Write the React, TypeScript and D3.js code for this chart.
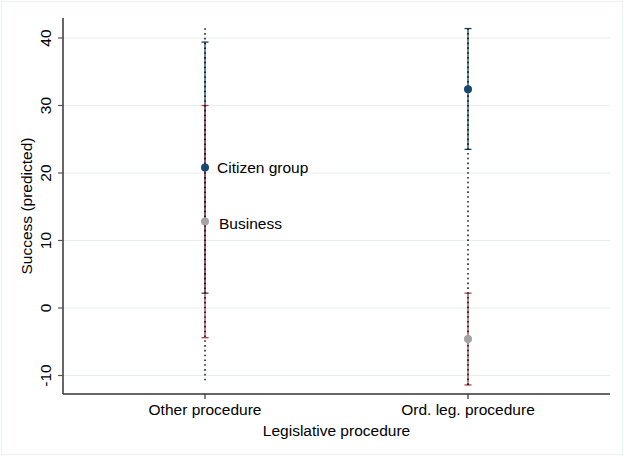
import React from "react";
import * as d3 from "d3";

const categories = ["Other procedure", "Ord. leg. procedure"];
const citizenPoint = [20.8, 32.4];
const citizenLo = [2.2, 23.5];
const citizenHi = [39.4, 41.4];
const businessPoint = [12.8, -4.6];
const businessLo = [-4.4, -11.4];
const businessHi = [30.0, 2.2];
const rangeLo = [-10.7, -11.4];
const rangeHi = [41.5, 41.4];
const yTicks = [-10, 0, 10, 20, 30, 40];
const pointLabels = ["Citizen group", "Business"];

const W = 624;
const H = 456;
const left = 63;
const right = 610;
const top = 18;
const bottom = 394;

const BLUE = "#1a476f";
const GRAY = "#a3a3a3";
const RED = "#a8404a";
const FONT = "'Liberation Sans', Arial, Helvetica, sans-serif";

export default function App() {
  const x = d3.scaleLinear().domain([-0.54, 1.54]).range([left, right]);
  const y = d3.scaleLinear().domain([0, 40]).range([308, 38]);
  const cap = 3.5;

  const ci = (lo: number[], hi: number[], color: string, key: string) =>
    categories.map((_, i) => (
      <g key={key + i}>
        <line x1={x(i)} x2={x(i)} y1={y(lo[i])} y2={y(hi[i])} stroke={color} strokeWidth={1.3} />
        <line x1={x(i) - cap} x2={x(i) + cap} y1={y(lo[i])} y2={y(lo[i])} stroke={color} strokeWidth={1.3} />
        <line x1={x(i) - cap} x2={x(i) + cap} y1={y(hi[i])} y2={y(hi[i])} stroke={color} strokeWidth={1.3} />
      </g>
    ));

  return (
    <svg width={W} height={H} style={{ position: "absolute", left: 0, top: 0 }}>
      <rect x={0} y={0} width={W} height={H} fill="#ffffff" />
      <rect x={1.5} y={1.5} width={W - 3} height={H - 3} fill="none" stroke="#eef3f3" strokeWidth={1.5} />
      {yTicks.map((t) => (
        <line key={"g" + t} x1={left} x2={right} y1={y(t)} y2={y(t)} stroke="#e6eeee" strokeWidth={1.2} />
      ))}
      {ci(citizenLo, citizenHi, BLUE, "c")}
      {ci(businessLo, businessHi, RED, "b")}
      {categories.map((_, i) => (
        <line key={"r" + i} x1={x(i)} x2={x(i)} y1={y(rangeLo[i])} y2={y(rangeHi[i])} stroke="#000" strokeWidth={1.4} strokeDasharray="1.6,3.2" />
      ))}
      {categories.map((_, i) => (
        <circle key={"bp" + i} cx={x(i)} cy={y(businessPoint[i])} r={4} fill={GRAY} />
      ))}
      {categories.map((_, i) => (
        <circle key={"cp" + i} cx={x(i)} cy={y(citizenPoint[i])} r={4} fill={BLUE} />
      ))}
      <text x={x(0) + 12} y={y(citizenPoint[0])} dy="0.35em" fontFamily={FONT} fontSize={15.5} fill="#000">{pointLabels[0]}</text>
      <text x={x(0) + 14} y={y(businessPoint[0]) + 2} dy="0.35em" fontFamily={FONT} fontSize={15.5} fill="#000">{pointLabels[1]}</text>
      <line x1={left} x2={left} y1={top} y2={bottom} stroke="#000" strokeWidth={1.2} />
      <line x1={left} x2={right} y1={bottom} y2={bottom} stroke="#333" strokeWidth={1.5} />
      {yTicks.map((t) => (
        <g key={"yt" + t}>
          <line x1={left - 5} x2={left} y1={y(t)} y2={y(t)} stroke="#555" strokeWidth={1.2} />
          <text transform={`translate(${left - 12},${y(t)}) rotate(-90)`} textAnchor="middle" fontFamily={FONT} fontSize={15.5} fill="#000">{t}</text>
        </g>
      ))}
      {categories.map((c, i) => (
        <g key={"xt" + i}>
          <line x1={x(i)} x2={x(i)} y1={bottom} y2={bottom + 5} stroke="#333" strokeWidth={1.2} />
          <text x={x(i)} y={415} textAnchor="middle" fontFamily={FONT} fontSize={15.5} fill="#000">{c}</text>
        </g>
      ))}
      <text x={(left + right) / 2} y={436} textAnchor="middle" fontFamily={FONT} fontSize={15.5} fill="#000">Legislative procedure</text>
      <text transform={`translate(32,${(top + bottom) / 2}) rotate(-90)`} textAnchor="middle" fontFamily={FONT} fontSize={15.5} fill="#000">Success (predicted)</text>
    </svg>
  );
}
